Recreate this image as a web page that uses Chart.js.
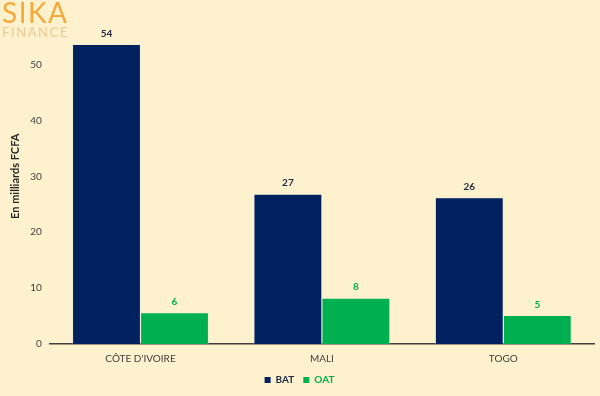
<!DOCTYPE html>
<html>
<head>
<meta charset="utf-8">
<script src="https://cdn.jsdelivr.net/npm/chart.js@4"></script>
<style>
  html, body { margin: 0; padding: 0; background: #fef1cd; }
  #wrap { position: relative; width: 600px; height: 396px; }
  #logo { position: absolute; left: 2px; top: -2px; font-family: Lato, sans-serif; line-height: 1; }
  #logo .a { color: #f6a938; font-size: 28px; font-weight: 400; letter-spacing: 1.5px; }
  #logo .b { color: #e9c995; font-size: 13px; font-weight: 400; letter-spacing: 1.6px; margin-top: 0px; }
</style>
</head>
<body>
<div id="wrap">
  <canvas id="chart" width="600" height="396"></canvas>
  <div id="logo"><div class="a">SIKA</div><div class="b">FINANCE</div></div>
</div>
<script>
const pays = ["CÔTE D'IVOIRE", "MALI", "TOGO"];
const bat = [53.6, 26.8, 26.2];
const oat = [5.6, 8.2, 5.1];
const couleurs = ["#002060", "#00b050"];

const charts = {};

const etiquettes = {
  id: "etiquettes",
  afterDatasetsDraw(chart) {
    const ctx = chart.ctx;
    ctx.save();
    ctx.font = "bold 10px Lato, sans-serif";
    ctx.textAlign = "center";
    ctx.textBaseline = "bottom";
    chart.data.datasets.forEach((ds, i) => {
      chart.getDatasetMeta(i).data.forEach((bar, j) => {
        ctx.fillStyle = i === 0 ? "#1f2a44" : couleurs[1];
        ctx.fillText(Math.round(ds.data[j]), bar.x, bar.y - 6);
      });
    });
    ctx.restore();
  },
};

function renderBarres(canvasId) {
  const ctx = document.getElementById(canvasId)?.getContext("2d");
  if (!ctx) return;

  charts[canvasId] = new Chart(ctx, {
    type: "bar",
    data: {
      labels: pays,
      datasets: [
        { label: "BAT", data: bat, backgroundColor: couleurs[0], borderColor: "#cfd6e6", borderWidth: 0.6 },
        { label: "OAT", data: oat, backgroundColor: couleurs[1], borderColor: "#cfe9d6", borderWidth: 0.6 },
      ],
    },
    options: {
      responsive: false,
      animation: false,
      categoryPercentage: 0.75,
      barPercentage: 1,
      layout: { padding: { top: 8, right: 6, left: 5, bottom: 1 } },
      plugins: {
        legend: {
          position: "bottom",
          labels: {
            boxWidth: 6,
            boxHeight: 6,
            padding: 9,
            font: { family: "Lato", size: 10, weight: "bold" },
            generateLabels: (chart) => chart.data.datasets.map((ds, i) => ({
              text: ds.label,
              fillStyle: couleurs[i],
              strokeStyle: couleurs[i],
              fontColor: i === 0 ? "#1f2a44" : couleurs[1],
              lineWidth: 0,
              datasetIndex: i,
            })),
          },
        },
        tooltip: { enabled: false },
      },
      scales: {
        x: {
          grid: { display: false },
          border: { color: "#404040", width: 1.5 },
          ticks: { color: "#404040", font: { family: "Lato", size: 10 }, padding: 1 },
        },
        y: {
          min: 0,
          max: 60,
          grid: { display: false, drawTicks: false },
          border: { display: false },
          ticks: {
            stepSize: 10,
            color: "#404040",
            font: (c) => ({ family: "Lato", size: c.tick && c.tick.value === 60 ? 1 : 10 }),
            padding: 8,
            callback: (v) => (v < 60 ? v : ""),
          },
          title: {
            display: true,
            text: "En milliards FCFA",
            color: "#262626",
            font: { family: "Lato", size: 11, weight: "bold" },
            padding: { top: 4, bottom: 0 },
          },
        },
      },
    },
    plugins: [etiquettes],
  });
}

renderBarres("chart");
</script>
</body>
</html>
